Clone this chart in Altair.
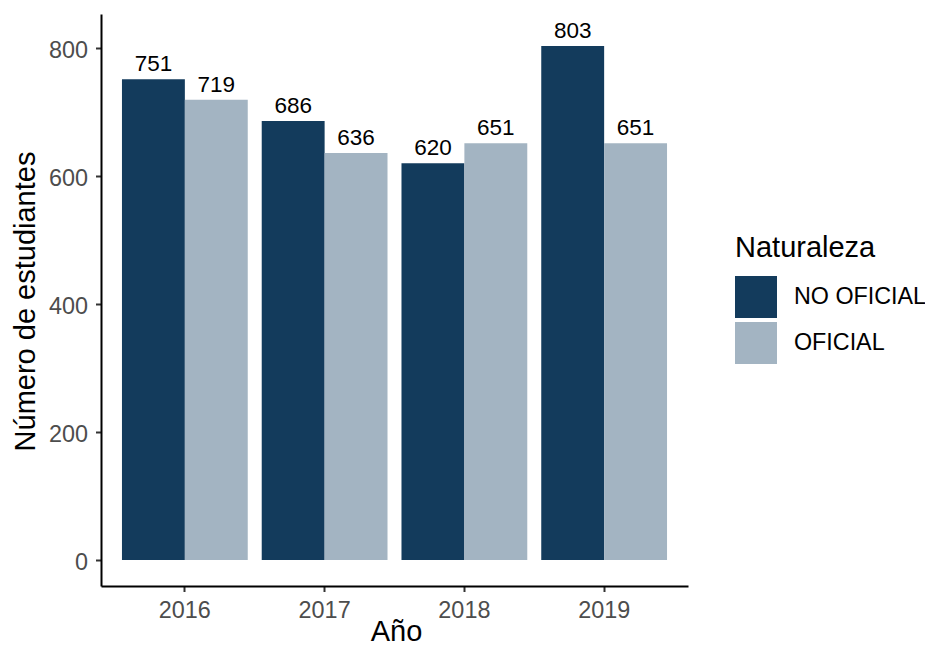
import altair as alt
import pandas as pd

years = ["2016", "2017", "2018", "2019"]
no_oficial = [751, 686, 620, 803]
oficial = [719, 636, 651, 651]
groups = ["NO OFICIAL", "OFICIAL"]
colors = ["#133b5c", "#a3b4c2"]
y_ticks = [0, 200, 400, 600, 800]

rows = []
for i, yr in enumerate(years):
    rows.append({"Año": yr, "Naturaleza": groups[0], "n": no_oficial[i]})
    rows.append({"Año": yr, "Naturaleza": groups[1], "n": oficial[i]})
df = pd.DataFrame(rows)

FONT = "Liberation Sans"
TICK_FS = 23.4
TITLE_FS = 29

x_enc = alt.X(
    "Año:N",
    title="Año",
    scale=alt.Scale(paddingInner=0.1, paddingOuter=0.15),
    axis=alt.Axis(
        labelAngle=0,
        labelFontSize=TICK_FS,
        labelColor="#4d4d4d",
        labelPadding=7.5,
        tickSize=5.5,
        titleFontSize=TITLE_FS,
        titleFontWeight="normal",
        titleColor="black",
        titleBaseline="alphabetic",
        titleX=295,
        titleY=54,
    ),
)
xo_enc = alt.XOffset(
    "Naturaleza:N", sort=groups, scale=alt.Scale(paddingInner=0, paddingOuter=0)
)
y_enc = alt.Y(
    "n:Q",
    title="Número de estudiantes",
    scale=alt.Scale(domain=[-40.6, 853], nice=False, zero=False),
    axis=alt.Axis(
        values=y_ticks,
        labelFontSize=TICK_FS,
        labelColor="#4d4d4d",
        labelPadding=8,
        labelOffset=2.5,
        tickSize=5.5,
        titleFontSize=TITLE_FS,
        titleFontWeight="normal",
        titleColor="black",
        titleBaseline="alphabetic",
        titleAngle=270,
        titleAlign="center",
        titleX=-67,
        titleY=287,
    ),
)

bars = alt.Chart(df).mark_bar().encode(
    x=x_enc,
    xOffset=xo_enc,
    y=y_enc,
    y2=alt.datum(0),
    color=alt.Color(
        "Naturaleza:N",
        sort=groups,
        scale=alt.Scale(domain=groups, range=colors),
        legend=alt.Legend(
            title="Naturaleza",
            orient="none",
            legendX=634,
            legendY=220,
            titleFontSize=TITLE_FS,
            titleFontWeight="normal",
            titleColor="black",
            titlePadding=13,
            labelFontSize=23.3,
            labelColor="black",
            labelOffset=17,
            symbolType="square",
            symbolSize=1764,
            symbolStrokeWidth=0,
            symbolOpacity=1,
            rowPadding=4,
        ),
    ),
)

labels = alt.Chart(df).mark_text(
    baseline="alphabetic", dy=-8, fontSize=22.5, color="black", font=FONT
).encode(
    x=alt.X("Año:N"),
    xOffset=alt.XOffset("Naturaleza:N", sort=groups),
    y=alt.Y("n:Q"),
    text=alt.Text("n:Q"),
)

chart = (
    alt.layer(bars, labels)
    .properties(
        width=587,
        height=572,
        autosize=alt.AutoSizeParams(type="none"),
        padding={"left": 93, "top": 6, "right": 237, "bottom": 61},
    )
    .configure(font=FONT)
    .configure_view(stroke=None)
    .configure_axis(
        grid=False,
        domainColor="black",
        domainWidth=2,
        tickColor="#333333",
        tickWidth=2,
        labelFont=FONT,
        titleFont=FONT,
    )
    .configure_legend(labelFont=FONT, titleFont=FONT, padding=0)
)

chart.save("out.html", embed_options={"renderer": "svg", "actions": False})
